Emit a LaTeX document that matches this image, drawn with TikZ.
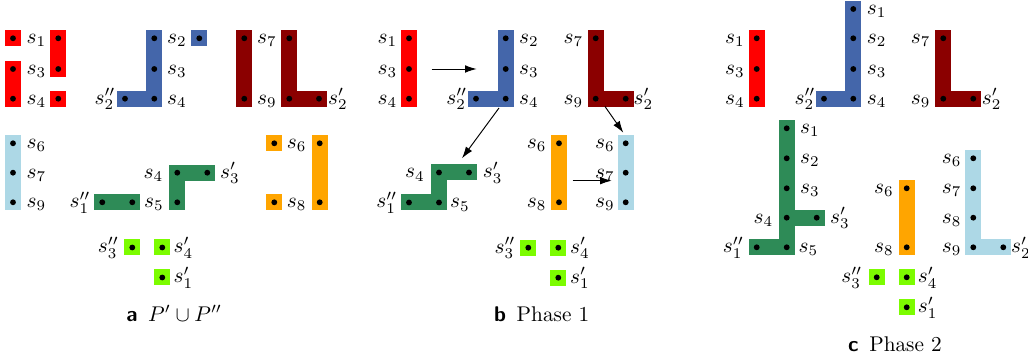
\documentclass[tikz,border=0pt]{standalone}
\usetikzlibrary{arrows.meta}
\definecolor{cred}{RGB}{255,0,0}
\definecolor{cblue}{RGB}{68,102,170}
\definecolor{cmaroon}{RGB}{139,0,0}
\definecolor{clight}{RGB}{173,216,230}
\definecolor{cgreen}{RGB}{46,139,87}
\definecolor{corange}{RGB}{255,165,0}
\definecolor{clime}{RGB}{124,252,0}
\tikzset{
  piece/.style={line width=7.52pt, line cap=rect, line join=miter},
  cell/.style={rectangle, inner sep=0pt, minimum size=7.52pt, draw=none},
  sdot/.style={circle, fill=black, inner sep=0pt, minimum size=2.75pt},
  lab/.style={anchor=base, inner sep=0pt},
  arr/.style={-{Latex[length=5.5pt,width=3.6pt]}, line width=0.45pt},
}
\begin{document}
\begin{tikzpicture}[x=0.47pt, y=-0.47pt]
\useasboundingbox (0,0) rectangle (1028,362);
% ---------------- panel a coordinates
\coordinate (aR1) at (13,38.3); \coordinate (aR2) at (13,69); \coordinate (aR3) at (13,98.7);
\coordinate (aR4) at (58.3,38.3); \coordinate (aR5) at (58.3,69); \coordinate (aR6) at (58.3,98.7);
\coordinate (aB1) at (154.3,38.3); \coordinate (aB2) at (154.3,69); \coordinate (aB3) at (154.3,98.7);
\coordinate (aB4) at (125,98.7); \coordinate (aB5) at (199.3,38.3);
\coordinate (aM1) at (244.3,38.3); \coordinate (aM2) at (244.3,98.7); \coordinate (aM3) at (289.3,38.3);
\coordinate (aM4) at (289.3,98.7); \coordinate (aM5) at (319,98.7);
\coordinate (aL1) at (13,143.3); \coordinate (aL2) at (13,172.7); \coordinate (aL3) at (13,202.3);
\coordinate (aG1) at (102.3,202.3); \coordinate (aG2) at (132.3,202.3); \coordinate (aG3) at (177.3,172.7);
\coordinate (aG4) at (207.3,172.7); \coordinate (aG5) at (177.3,202.3);
\coordinate (aO1) at (274.3,143.3); \coordinate (aO2) at (274.3,202.3); \coordinate (aO3) at (319.7,143.3);
\coordinate (aO4) at (319.7,202.3);
\coordinate (aY1) at (132.3,247.5); \coordinate (aY2) at (162.3,247.5); \coordinate (aY3) at (162.3,277.5);
% ---------------- panel b coordinates
\coordinate (bR1) at (409,38.3); \coordinate (bR2) at (409,69); \coordinate (bR3) at (409,98.7);
\coordinate (bB1) at (505.7,38.3); \coordinate (bB2) at (505.7,69); \coordinate (bB3) at (505.7,98.7);
\coordinate (bB4) at (476,98.7);
\coordinate (bM1) at (595.7,38.3); \coordinate (bM2) at (595.7,98.7); \coordinate (bM3) at (625.7,98.7);
\coordinate (bG1) at (409,202.5); \coordinate (bG2) at (439,202.5); \coordinate (bG3) at (439,172.5);
\coordinate (bG4) at (469,172.5);
\coordinate (bO1) at (559,143.3); \coordinate (bO2) at (559,202.3);
\coordinate (bL1) at (625.7,143.3); \coordinate (bL2) at (625.7,172.7); \coordinate (bL3) at (625.7,202.3);
\coordinate (bY1) at (528.3,247.7); \coordinate (bY2) at (558.3,247.7); \coordinate (bY3) at (558.3,277.7);
\coordinate (bA1s) at (431.7,69); \coordinate (bA1e) at (476.7,69);
\coordinate (bA2s) at (499,108); \coordinate (bA2e) at (462,158.3);
\coordinate (bA3s) at (605,106.5); \coordinate (bA3e) at (623.3,132.7);
\coordinate (bA4s) at (572.7,180.7); \coordinate (bA4e) at (611.7,180.7);
% ---------------- panel c coordinates
\coordinate (cR1) at (756.7,38.3); \coordinate (cR2) at (756.7,69); \coordinate (cR3) at (756.7,98.7);
\coordinate (cB0) at (853.3,9); \coordinate (cB1) at (853.3,38.3); \coordinate (cB2) at (853.3,69);
\coordinate (cB3) at (853.3,98.7); \coordinate (cB4) at (824,98.7);
\coordinate (cM1) at (943.3,38.3); \coordinate (cM2) at (943.3,98.7); \coordinate (cM3) at (973.3,98.7);
\coordinate (cG1) at (786.7,128.3); \coordinate (cG2) at (786.7,158.3); \coordinate (cG3) at (786.7,188.3);
\coordinate (cG4) at (786.7,217.7); \coordinate (cG5) at (786.7,247.3); \coordinate (cG6) at (756.7,247.3);
\coordinate (cG7) at (816.7,217.7);
\coordinate (cO1) at (906.7,188.3); \coordinate (cO2) at (906.7,247.3);
\coordinate (cL1) at (973.3,158.3); \coordinate (cL2) at (973.3,188.3); \coordinate (cL3) at (973.3,217.7);
\coordinate (cL4) at (973.3,247.3); \coordinate (cL5) at (1003.3,247.3);
\coordinate (cY1) at (876.7,277.3); \coordinate (cY2) at (906.7,277.3); \coordinate (cY3) at (906.7,307.3);

% ---------------- pieces, panel a
\node[cell, fill=cred] (paR1) at (aR1) {};
\draw[piece, cred] (aR2) -- (aR3);
\draw[piece, cred] (aR4) -- (aR5);
\node[cell, fill=cred] (paR6) at (aR6) {};
\draw[piece, cblue] (aB1) -- (aB3) -- (aB4);
\node[cell, fill=cblue] (paB5) at (aB5) {};
\draw[piece, cmaroon] (aM1) -- (aM2);
\draw[piece, cmaroon] (aM3) -- (aM4) -- (aM5);
\draw[piece, clight] (aL1) -- (aL3);
\draw[piece, cgreen] (aG1) -- (aG2);
\draw[piece, cgreen] (aG4) -- (aG3) -- (aG5);
\node[cell, fill=corange] (paO1) at (aO1) {};
\node[cell, fill=corange] (paO2) at (aO2) {};
\draw[piece, corange] (aO3) -- (aO4);
\node[cell, fill=clime] (paY1) at (aY1) {};
\node[cell, fill=clime] (paY2) at (aY2) {};
\node[cell, fill=clime] (paY3) at (aY3) {};
% ---------------- pieces, panel b
\draw[piece, cred] (bR1) -- (bR3);
\draw[piece, cblue] (bB1) -- (bB3) -- (bB4);
\draw[piece, cmaroon] (bM1) -- (bM2) -- (bM3);
\draw[piece, cgreen] (bG1) -- (bG2) -- (bG3) -- (bG4);
\draw[piece, corange] (bO1) -- (bO2);
\draw[piece, clight] (bL1) -- (bL3);
\node[cell, fill=clime] (pbY1) at (bY1) {};
\node[cell, fill=clime] (pbY2) at (bY2) {};
\node[cell, fill=clime] (pbY3) at (bY3) {};
% ---------------- pieces, panel c
\draw[piece, cred] (cR1) -- (cR3);
\draw[piece, cblue] (cB0) -- (cB3) -- (cB4);
\draw[piece, cmaroon] (cM1) -- (cM2) -- (cM3);
\draw[piece, cgreen] (cG1) -- (cG5) -- (cG6);
\draw[piece, cgreen] (cG4) -- (cG7);
\draw[piece, corange] (cO1) -- (cO2);
\draw[piece, clight] (cL1) -- (cL4) -- (cL5);
\node[cell, fill=clime] (pcY1) at (cY1) {};
\node[cell, fill=clime] (pcY2) at (cY2) {};
\node[cell, fill=clime] (pcY3) at (cY3) {};

% ---------------- dots
\foreach \n in {aR1,aR2,aR3,aR4,aR5,aR6,aB1,aB2,aB3,aB4,aB5,aM1,aM2,aM3,aM4,aM5,
  aL1,aL2,aL3,aG1,aG2,aG3,aG4,aG5,aO1,aO2,aO3,aO4,aY1,aY2,aY3,
  bR1,bR2,bR3,bB1,bB2,bB3,bB4,bM1,bM2,bM3,bG1,bG2,bG3,bG4,bO1,bO2,bL1,bL2,bL3,bY1,bY2,bY3,
  cR1,cR2,cR3,cB0,cB1,cB2,cB3,cB4,cM1,cM2,cM3,cG1,cG2,cG3,cG4,cG5,cG6,cG7,cO1,cO2,
  cL1,cL2,cL3,cL4,cL5,cY1,cY2,cY3}
  \node[sdot] (d\n) at (\n) {};

% ---------------- labels, panel a
\node[lab] (la1) at (36.5,43.8) {$s_1$};
\node[lab] (la2) at (36.5,74.5) {$s_3$};
\node[lab] (la3) at (36.5,104.2) {$s_4$};
\node[lab] (la4) at (177,43.8) {$s_2$};
\node[lab] (la5) at (177,74.5) {$s_3$};
\node[lab] (la6) at (177,104.2) {$s_4$};
\node[lab] (la7) at (105,104.2) {$s_2''$};
\node[lab] (la8) at (267,43.8) {$s_7$};
\node[lab] (la9) at (267,104.2) {$s_9$};
\node[lab] (la10) at (338,104.2) {$s_2'$};
\node[lab] (la11) at (36.5,148.8) {$s_6$};
\node[lab] (la12) at (36.5,178.2) {$s_7$};
\node[lab] (la13) at (36.5,207.8) {$s_9$};
\node[lab] (la14) at (80,207.8) {$s_1''$};
\node[lab] (la15) at (154,207.8) {$s_5$};
\node[lab] (la16) at (153.3,178.2) {$s_4$};
\node[lab] (la17) at (230,178.2) {$s_3'$};
\node[lab] (la18) at (296.7,148.8) {$s_6$};
\node[lab] (la19) at (296.7,207.8) {$s_8$};
\node[lab] (la20) at (108.3,253) {$s_3''$};
\node[lab] (la21) at (183.3,253) {$s_4'$};
\node[lab] (la22) at (183.3,283) {$s_1'$};
% ---------------- labels, panel b
\node[lab] (lb1) at (387.3,43.8) {$s_1$};
\node[lab] (lb2) at (387.3,74.5) {$s_3$};
\node[lab] (lb3) at (387.3,104.2) {$s_4$};
\node[lab] (lb4) at (529,43.8) {$s_2$};
\node[lab] (lb5) at (529,74.5) {$s_3$};
\node[lab] (lb6) at (529,104.2) {$s_4$};
\node[lab] (lb7) at (456.7,104.2) {$s_2''$};
\node[lab] (lb8) at (573.3,43.8) {$s_7$};
\node[lab] (lb9) at (573.3,104.2) {$s_9$};
\node[lab] (lb10) at (643.3,104.2) {$s_2'$};
\node[lab] (lb11) at (415,178) {$s_4$};
\node[lab] (lb12) at (492.7,178) {$s_3'$};
\node[lab] (lb13) at (386.7,208) {$s_1''$};
\node[lab] (lb14) at (460,208) {$s_5$};
\node[lab] (lb15) at (536.7,148.8) {$s_6$};
\node[lab] (lb16) at (536.7,207.8) {$s_8$};
\node[lab] (lb17) at (605,148.8) {$s_6$};
\node[lab] (lb18) at (605,178.2) {$s_7$};
\node[lab] (lb19) at (605,207.8) {$s_9$};
\node[lab] (lb20) at (505,253.2) {$s_3''$};
\node[lab] (lb21) at (580,253.2) {$s_4'$};
\node[lab] (lb22) at (580,283.2) {$s_1'$};
% ---------------- labels, panel c
\node[lab] (lc1) at (735,43.8) {$s_1$};
\node[lab] (lc2) at (735,74.5) {$s_3$};
\node[lab] (lc3) at (735,104.2) {$s_4$};
\node[lab] (lc4) at (876.7,14.5) {$s_1$};
\node[lab] (lc5) at (876.7,43.8) {$s_2$};
\node[lab] (lc6) at (876.7,74.5) {$s_3$};
\node[lab] (lc7) at (876.7,104.2) {$s_4$};
\node[lab] (lc8) at (805,104.2) {$s_2''$};
\node[lab] (lc9) at (920.7,43.8) {$s_7$};
\node[lab] (lc10) at (920.7,104.2) {$s_9$};
\node[lab] (lc11) at (991.7,104.2) {$s_2'$};
\node[lab] (lc12) at (810,133.8) {$s_1$};
\node[lab] (lc13) at (810,163.8) {$s_2$};
\node[lab] (lc14) at (810,193.8) {$s_3$};
\node[lab] (lc15) at (763.3,223.2) {$s_4$};
\node[lab] (lc16) at (840,223.2) {$s_3'$};
\node[lab] (lc17) at (733.3,252.8) {$s_1''$};
\node[lab] (lc18) at (808.3,252.8) {$s_5$};
\node[lab] (lc19) at (884,193.8) {$s_6$};
\node[lab] (lc20) at (884,252.8) {$s_8$};
\node[lab] (lc21) at (951.7,163.8) {$s_6$};
\node[lab] (lc22) at (951.7,193.8) {$s_7$};
\node[lab] (lc23) at (951.7,223.2) {$s_8$};
\node[lab] (lc24) at (951.7,252.8) {$s_9$};
\node[lab] (lc25) at (1021,252.8) {$s_2'$};
\node[lab] (lc26) at (851.7,282.8) {$s_3''$};
\node[lab] (lc27) at (927.7,282.8) {$s_4'$};
\node[lab] (lc28) at (927.7,312.8) {$s_1'$};

% ---------------- arrows, panel b
\draw[arr] (bA1s) -- (bA1e);
\draw[arr] (bA2s) -- (bA2e);
\draw[arr] (bA3s) -- (bA3e);
\draw[arr] (bA4s) -- (bA4e);

% ---------------- captions
\node[lab] (capa) at (174.2,321.7) {\textsf{\textbf{a}}\enspace$P'\cup P''$};
\node[lab] (capb) at (541.7,321.7) {\textsf{\textbf{b}}\enspace Phase 1};
\node[lab] (capc) at (895,351.7) {\textsf{\textbf{c}}\enspace Phase 2};
\end{tikzpicture}
\end{document}
